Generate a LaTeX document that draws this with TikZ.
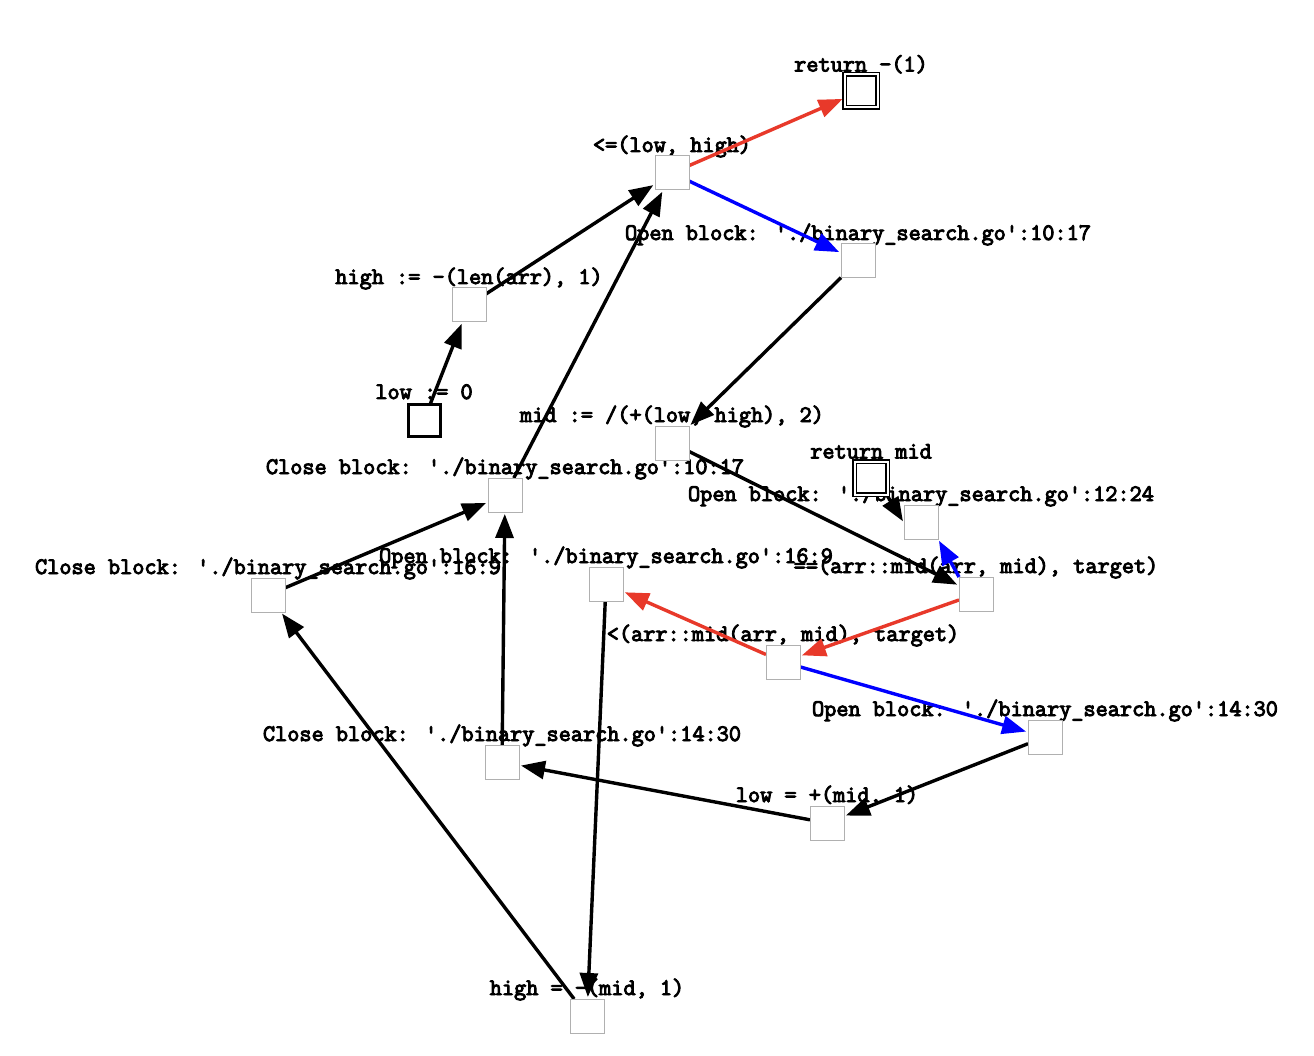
\documentclass[tikz,border=0pt]{standalone}
\usepackage{fontspec}
\newfontfamily\codefont[FakeBold=4]{Latin Modern Mono}
\usetikzlibrary{arrows.meta}
\definecolor{falsered}{HTML}{E8392A}
\definecolor{trueblue}{HTML}{0000FF}
\definecolor{boxgray}{HTML}{B0B0B0}
\pgfdeclarelayer{labels}
\pgfdeclarelayer{edges}
\pgfsetlayers{labels,edges,main}
\begin{document}
\begin{tikzpicture}[x=1pt,y=-1pt,
  stmt/.style={draw=boxgray,fill=white,line width=1pt,minimum size=34pt,inner sep=0pt,outer sep=0pt},
  entry/.style={draw=black,fill=white,line width=3pt,minimum size=32pt,inner sep=0pt,outer sep=0pt},
  exit/.style={draw=black,fill=white,double=white,double distance=2pt,line width=1.4pt,minimum size=33pt,inner sep=0pt,outer sep=0pt},
  lbl/.style={font=\fontsize{23.6}{28}\codefont,inner sep=0pt,anchor=base},
  tip/.style={-{Triangle[length=24pt,width=18pt,fill=#1]}},
  edge/.style={line width=3.4pt,shorten >=2pt,shorten <=0pt},
  black edge/.style={edge,draw=black,tip=black},
  red edge/.style={edge,draw=falsered,tip=falsered},
  blue edge/.style={edge,draw=trueblue,tip=trueblue},
]
\useasboundingbox (0,0) rectangle (1314,1056);

% statement nodes
\node[exit]  (ret1)    at (861,91)   {};
\node[stmt]  (le)      at (672,173)  {};
\node[stmt]  (ob1017)  at (858,261)  {};
\node[stmt]  (high0)   at (469,305)  {};
\node[entry] (low0)    at (424,420)  {};
\node[stmt]  (mid)     at (672,443)  {};
\node[exit]  (retmid)  at (871,478)  {};
\node[stmt]  (cb1017)  at (505,495)  {};
\node[stmt]  (ob1224)  at (921,522)  {};
\node[stmt]  (cb169)   at (268,595)  {};
\node[stmt]  (ob169)   at (606,584)  {};
\node[stmt]  (eq)      at (976,594)  {};
\node[stmt]  (lt)      at (783,662)  {};
\node[stmt]  (ob1430)  at (1045,737) {};
\node[stmt]  (cb1430)  at (502,762)  {};
\node[stmt]  (lowinc)  at (827,823)  {};
\node[stmt]  (highdec) at (587,1016) {};

% white page and statement texts
\begin{pgfonlayer}{labels}
\fill[white] (0,0) rectangle (1314,1056);
\path (ret1.north)    ++(0,-3) node[lbl] {return -(1)};
\path (le.north)      ++(0,-4) node[lbl] {<=(low, high)};
\path (ob1017.north)  ++(0,-4) node[lbl] {Open block: './binary\_search.go':10:17};
\path (high0.north)   ++(0,-4) node[lbl] {high := -(len(arr), 1)};
\path (low0.north)    ++(0,-5) node[lbl] {low := 0};
\path (mid.north)     ++(0,-4) node[lbl] {mid := /(+(low, high), 2)};
\path (retmid.north)  ++(0,-3) node[lbl] {return mid};
\path (cb1017.north)  ++(0,-4) node[lbl] {Close block: './binary\_search.go':10:17};
\path (ob1224.north)  ++(0,-4) node[lbl] {Open block: './binary\_search.go':12:24};
\path (cb169.north)   ++(0,-4) node[lbl] {Close block: './binary\_search.go':16:9};
\path (ob169.north)   ++(0,-4) node[lbl] {Open block: './binary\_search.go':16:9};
\path (eq.north)      ++(0,-4) node[lbl] {==(arr::mid(arr, mid), target)};
\path (lt.north)      ++(0,-4) node[lbl] {<(arr::mid(arr, mid), target)};
\path (ob1430.north)  ++(0,-4) node[lbl] {Open block: './binary\_search.go':14:30};
\path (cb1430.north)  ++(0,-4) node[lbl] {Close block: './binary\_search.go':14:30};
\path (lowinc.north)  ++(0,-4) node[lbl] {low = +(mid, 1)};
\path (highdec.north) ++(0,-4) node[lbl] {high = -(mid, 1)};
\end{pgfonlayer}

% control flow
\begin{pgfonlayer}{edges}
\draw[black edge] (low0) -- (high0);
\draw[black edge] (high0) -- (le);
\draw[black edge] (cb1017) -- (le);
\draw[red edge]   (le) -- (ret1);
\draw[blue edge]  (le) -- (ob1017);
\draw[black edge] (ob1017) -- (mid);
\draw[black edge] (mid) -- (eq);
\draw[blue edge]  (eq.north west) -- (ob1224.south east);
\draw[black edge] ([xshift=-1pt]retmid.south east) -- ([yshift=-1pt]ob1224.west);
\draw[red edge]   (eq) -- (lt);
\draw[red edge]   (lt) -- (ob169);
\draw[blue edge]  (lt) -- (ob1430);
\draw[black edge] (ob1430) -- (lowinc);
\draw[black edge] (lowinc) -- (cb1430);
\draw[black edge] (cb1430) -- (cb1017);
\draw[black edge] (ob169) -- (highdec);
\draw[black edge] (highdec) -- (cb169);
\draw[black edge] (cb169) -- (cb1017);
\end{pgfonlayer}
\end{tikzpicture}
\end{document}
